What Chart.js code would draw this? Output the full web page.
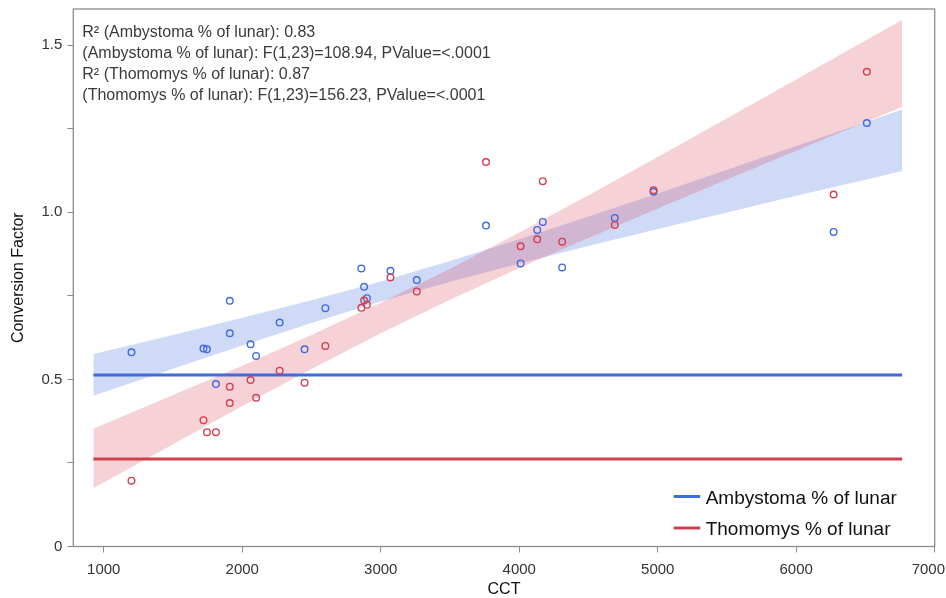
<!DOCTYPE html>
<html>
<head>
<meta charset="utf-8">
<script src="https://cdn.jsdelivr.net/npm/chart.js@4.4.1/dist/chart.umd.min.js"></script>
<style>
  html, body { margin: 0; padding: 0; background: #fff; }
  canvas { display: block; }
</style>
</head>
<body>
<canvas id="chart" width="946" height="598"></canvas>
<script>
// Observations: colour temperature (CCT) and conversion factor for each series
const cct = [1200, 1720, 1745, 1810, 1910, 1910, 2060, 2100, 2270, 2450, 2600, 2860, 2880,
             2900, 3070, 3260, 3760, 4010, 4130, 4170, 4310, 4690, 4970, 6270, 6510];
const ambystoma = [0.581, 0.592, 0.590, 0.486, 0.735, 0.638, 0.605, 0.570, 0.670, 0.590, 0.713, 0.832, 0.777,
                   0.743, 0.825, 0.797, 0.960, 0.847, 0.947, 0.971, 0.835, 0.983, 1.061, 0.941, 1.267];
const thomomys = [0.197, 0.378, 0.342, 0.342, 0.478, 0.429, 0.498, 0.445, 0.526, 0.490, 0.600, 0.714, 0.736,
                  0.723, 0.805, 0.763, 1.150, 0.898, 0.919, 1.093, 0.912, 0.962, 1.066, 1.053, 1.420];

// 95% confidence limits of each fitted line
const bandCCT   = [925, 1500, 2000, 2500, 3000, 3500, 4000, 4500, 5000, 5500, 6000, 6500, 6765];
const ambyUpper = [0.576, 0.633, 0.684, 0.737, 0.793, 0.854, 0.919, 0.987, 1.056, 1.127, 1.198, 1.269, 1.307];
const ambyLower = [0.451, 0.532, 0.601, 0.669, 0.733, 0.792, 0.847, 0.899, 0.950, 0.999, 1.049, 1.097, 1.123];
const thomUpper = [0.352, 0.453, 0.541, 0.633, 0.729, 0.831, 0.939, 1.051, 1.165, 1.281, 1.397, 1.514, 1.576];
const thomLower = [0.174, 0.306, 0.420, 0.531, 0.638, 0.738, 0.833, 0.923, 1.011, 1.098, 1.184, 1.270, 1.315];

// Reference levels (share of lunar)
const ambyLevel = [0.513];
const thomLevel = [0.262];

const seriesNames = ['Ambystoma % of lunar', 'Thomomys % of lunar'];
const statLines = [
  'R\u00B2 (Ambystoma % of lunar): 0.83',
  '(Ambystoma % of lunar): F(1,23)=108.94, PValue=<.0001',
  'R\u00B2 (Thomomys % of lunar): 0.87',
  '(Thomomys % of lunar): F(1,23)=156.23, PValue=<.0001'
];

const xTicks = [1000, 2000, 3000, 4000, 5000, 6000, 7000];
const xTickLabels = ['1000', '2000', '3000', '4000', '5000', '6000', '7000'];
const yTicks = [0, 0.25, 0.5, 0.75, 1.0, 1.25, 1.5];
const yTickLabels = ['0', '', '0.5', '', '1.0', '', '1.5'];

const FONT = '"Liberation Sans", Arial, Helvetica, sans-serif';
const BLUE = '#3f6be0';
const RED = '#d23f4f';
const BLUE_BAND = 'rgba(63, 107, 224, 0.25)';
const RED_BAND = 'rgba(214, 62, 80, 0.23)';
const FRAME = '#8c8c8c';

const toPoints = (xs, ys) => xs.map((x, i) => ({ x: x, y: ys[i] }));
const levelLine = (v) => [{ x: bandCCT[0], y: v[0] }, { x: bandCCT[bandCCT.length - 1], y: v[0] }];

// Frame, x tick labels, fit statistics and legend
const decorations = {
  id: 'decorations',
  afterDraw(chart) {
    const { ctx, chartArea: a, scales } = chart;
    ctx.save();

    ctx.strokeStyle = FRAME;
    ctx.lineWidth = 1.3;
    ctx.strokeRect(a.left, a.top, a.right - a.left, a.bottom - a.top);

    ctx.font = '15px ' + FONT;
    ctx.fillStyle = '#333';
    ctx.textAlign = 'left';
    ctx.textBaseline = 'alphabetic';
    xTicks.forEach((v, i) => {
      const px = scales.x.getPixelForValue(v);
      const w = ctx.measureText(xTickLabels[i]).width;
      const left = Math.min(px - w / 2, chart.width - 1 - w);
      ctx.fillText(xTickLabels[i], left, a.bottom + 27.8);
    });

    ctx.font = '16px ' + FONT;
    ctx.fillStyle = '#3a3a3a';
    statLines.forEach((t, i) => ctx.fillText(t, a.left + 9, a.top + 27.7 + i * 21));

    const colors = [BLUE, RED];
    ctx.font = '19px ' + FONT;
    ctx.fillStyle = '#111';
    seriesNames.forEach((name, i) => {
      const y = a.bottom - 50 + i * 31.5;
      ctx.strokeStyle = colors[i];
      ctx.lineWidth = 3;
      ctx.beginPath();
      ctx.moveTo(a.right - 261, y);
      ctx.lineTo(a.right - 234.5, y);
      ctx.stroke();
      ctx.fillText(name, a.right - 229, y + 7);
    });

    ctx.restore();
  }
};

const lineBase = { showLine: true, pointRadius: 0, borderWidth: 0, tension: 0 };
const scatterBase = {
  showLine: false, pointRadius: 3.3, pointHoverRadius: 3.3, pointBorderWidth: 1.4,
  pointBackgroundColor: 'rgba(0,0,0,0)', pointStyle: 'circle'
};

new Chart(document.getElementById('chart'), {
  type: 'line',
  data: {
    datasets: [
      { ...lineBase, label: 'amby upper', data: toPoints(bandCCT, ambyUpper), fill: '+1', backgroundColor: BLUE_BAND, borderColor: 'rgba(0,0,0,0)', order: 10 },
      { ...lineBase, label: 'amby lower', data: toPoints(bandCCT, ambyLower), fill: false, borderColor: 'rgba(0,0,0,0)', order: 10 },
      { ...lineBase, label: 'thom upper', data: toPoints(bandCCT, thomUpper), fill: '+1', backgroundColor: RED_BAND, borderColor: 'rgba(0,0,0,0)', order: 9 },
      { ...lineBase, label: 'thom lower', data: toPoints(bandCCT, thomLower), fill: false, borderColor: 'rgba(0,0,0,0)', order: 9 },
      { ...lineBase, label: seriesNames[0], data: levelLine(ambyLevel), borderWidth: 3, borderColor: BLUE, fill: false, order: 5 },
      { ...lineBase, label: seriesNames[1], data: levelLine(thomLevel), borderWidth: 3, borderColor: RED, fill: false, order: 5 },
      { ...scatterBase, label: 'Ambystoma', data: toPoints(cct, ambystoma), borderColor: BLUE, pointBorderColor: BLUE, order: 2 },
      { ...scatterBase, label: 'Thomomys', data: toPoints(cct, thomomys), borderColor: RED, pointBorderColor: RED, order: 1 }
    ]
  },
  options: {
    responsive: false,
    devicePixelRatio: 1,
    animation: false,
    events: [],
    layout: { padding: { top: 9, right: 11.3, bottom: 0, left: 0 } },
    plugins: { legend: { display: false }, tooltip: { enabled: false } },
    scales: {
      x: {
        type: 'linear', min: 780, max: 7000,
        afterBuildTicks: (s) => { s.ticks = xTicks.map(v => ({ value: v })); },
        afterFit: (s) => { s.height = 51.5; s.paddingLeft = 0; s.paddingRight = 0; },
        ticks: { display: false },
        grid: { drawOnChartArea: false, drawTicks: true, tickLength: 6, color: FRAME },
        border: { display: false },
        title: { display: true, text: 'CCT', color: '#111', font: { family: FONT, size: 16, lineHeight: 1 }, padding: { top: 0, bottom: 0.5 } }
      },
      y: {
        type: 'linear', min: 0, max: 1.608,
        afterBuildTicks: (s) => { s.ticks = yTicks.map(v => ({ value: v })); },
        afterFit: (s) => { s.width = 73.3; s.paddingTop = 0; s.paddingBottom = 0; },
        ticks: { autoSkip: false, callback: (v, i) => yTickLabels[i], color: '#333', padding: 5, font: { family: FONT, size: 15 } },
        grid: { drawOnChartArea: false, drawTicks: true, tickLength: 6, color: FRAME },
        border: { display: false },
        title: { display: true, text: 'Conversion Factor', color: '#111', font: { family: FONT, size: 16, lineHeight: 1 }, padding: { top: 11, bottom: 0 } }
      }
    }
  },
  plugins: [decorations]
});
</script>
</body>
</html>
